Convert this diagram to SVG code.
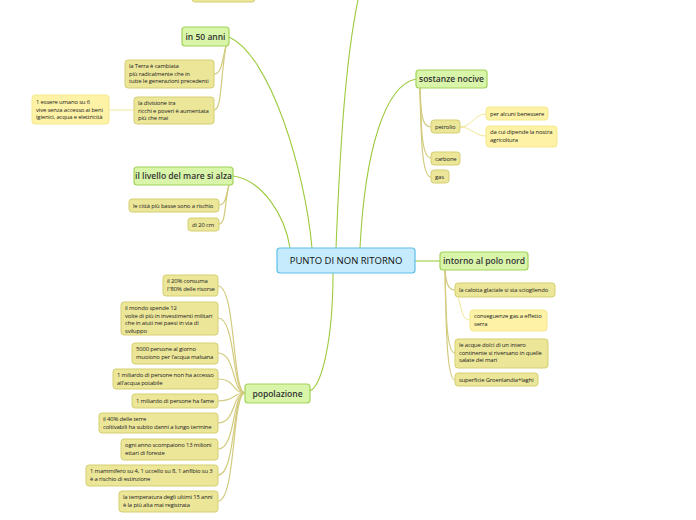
<svg xmlns="http://www.w3.org/2000/svg" width="696" height="520" viewBox="0 0 696 520">
<style>
.c{fill:#c6ebfc;stroke:#5dbeea;stroke-width:1.2}
.m{fill:#d8f5aa;stroke:#a3d35a;stroke-width:1.2}
.s{fill:#ece699;stroke:#d5cf72;stroke-width:1}
.l{fill:#fdf2a6;stroke:#f4e98e;stroke-width:1}
.ct{font-family:"Open Sans",sans-serif;font-size:9.5px;fill:#111;text-anchor:middle}
.mt{font-family:"Open Sans",sans-serif;font-size:8.5px;font-weight:600;fill:#333;text-anchor:middle}
.st{font-family:"Open Sans",sans-serif;font-size:5.9px;fill:#222;letter-spacing:-0.15px}
.g{fill:none;stroke:#9dca3e;stroke-width:1.1}
.o{fill:none;stroke:#d2cb7e;stroke-width:1.2}
.y{fill:none;stroke:#f3e896;stroke-width:1}
</style>
<rect width="696" height="520" fill="#ffffff"/>
<g id="connectors">
<path class="g" d="M312,248 C305,170 270,55 229,37"/>
<path class="g" d="M290,248 C285,215 262,180 233,176"/>
<path class="g" d="M336,248 C340,150 345,60 359,-5"/>
<path class="g" d="M360,248 C365,150 385,85 416,79"/>
<path class="g" d="M415,261 L440,261"/>
<path class="g" d="M333,273 C333,340 322,385 310,391"/>
<path class="o" d="M226,46 C222,60 222,74 214,74"/>
<path class="o" d="M226,46 C220,80 222,110 214,110"/>
<path class="y" d="M109,110 L134,110"/>
<path class="o" d="M229,185 C226,195 226,205 219,205"/>
<path class="o" d="M229,185 C224,205 226,224 219,224"/>
<path class="o" d="M420,88 C421,115 422,127 431,127"/>
<path class="o" d="M420,88 C421,130 422,158 431,158"/>
<path class="o" d="M420,88 C421,140 422,177 431,177"/>
<path class="y" d="M460,127 C472,127 474,114 486,114"/>
<path class="y" d="M460,127 C472,127 474,136 486,136"/>
<path class="o" d="M445,270 C446,280 447,290 455,290"/>
<path class="o" d="M445,270 C446,320 447,353 455,353"/>
<path class="o" d="M445,270 C446,330 447,380 455,380"/>
<path class="y" d="M458,297 C462,310 462,320 470,320"/>
<path class="o" d="M245,393 C232,393 236,286 218,286"/>
<path class="o" d="M245,393 C232,393 236,318 218,318"/>
<path class="o" d="M245,393 C232,393 236,353 218,353"/>
<path class="o" d="M245,393 C232,393 236,379 218,379"/>
<path class="o" d="M245,393 C232,393 236,401 218,401"/>
<path class="o" d="M245,393 C232,393 236,423 218,423"/>
<path class="o" d="M245,393 C232,393 236,449 218,449"/>
<path class="o" d="M245,393 C232,393 236,475 218,475"/>
<path class="o" d="M245,393 C232,393 236,501 218,501"/>
</g>
<g id="top-partial"><rect class="s" x="192" y="-20" width="63" height="22" rx="3"/></g>
<g id="center"><rect class="c" x="277" y="248" width="138" height="25" rx="3"/><text class="ct" x="346" y="264">PUNTO DI NON RITORNO</text></g>
<g id="in50"><rect class="m" x="182" y="27" width="47" height="19" rx="3"/><text class="mt" x="205.5" y="40">in 50 anni</text></g>
<g id="terra"><rect class="s" x="125" y="60" width="89" height="28" rx="3"/><text class="st" x="129" y="68"><tspan x="129">la Terra è cambiata</tspan><tspan x="129" dy="7.5">più radicalmente che in</tspan><tspan x="129" dy="7.5">tutte le generazioni precedenti</tspan></text></g>
<g id="divisione"><rect class="s" x="134" y="97" width="80" height="27" rx="3"/><text class="st" x="138" y="105"><tspan x="138">la divisione tra</tspan><tspan x="138" dy="7.5">ricchi e poveri è aumentata</tspan><tspan x="138" dy="7.5">più che mai</tspan></text></g>
<g id="essere"><rect class="l" x="32" y="95" width="77" height="29" rx="3"/><text class="st" x="36" y="104"><tspan x="36">1 essere umano su 6</tspan><tspan x="36" dy="7.5">vive senza accesso ai beni</tspan><tspan x="36" dy="7.5">igienici, acqua e elettricità</tspan></text></g>
<g id="livello"><rect class="m" x="134" y="167" width="99" height="18" rx="3"/><text class="mt" x="183.5" y="179">il livello del mare si alza</text></g>
<g id="citta"><rect class="s" x="129" y="199" width="90" height="13" rx="3"/><text class="st" x="133" y="208">le città più basse sono a rischio</text></g>
<g id="cm"><rect class="s" x="188" y="218" width="31" height="13" rx="3"/><text class="st" x="192" y="227">di 20 cm</text></g>
<g id="sostanze"><rect class="m" x="416" y="70" width="71" height="18" rx="3"/><text class="mt" x="451.5" y="82">sostanze nocive</text></g>
<g id="petrolio"><rect class="s" x="431" y="120" width="29" height="13" rx="3"/><text class="st" x="435" y="129">petrolio</text></g>
<g id="carbone"><rect class="s" x="431" y="152" width="29" height="13" rx="3"/><text class="st" x="435" y="161">carbone</text></g>
<g id="gas"><rect class="s" x="431" y="170" width="18" height="13" rx="3"/><text class="st" x="435" y="179">gas</text></g>
<g id="benessere"><rect class="l" x="486" y="107" width="62" height="13" rx="3"/><text class="st" x="490" y="116">per alcuni benessere</text></g>
<g id="agricoltura"><rect class="l" x="486" y="126" width="71" height="21" rx="3"/><text class="st" x="490" y="134"><tspan x="490">da cui dipende la nostra</tspan><tspan x="490" dy="7.5">agricoltura</tspan></text></g>
<g id="polo"><rect class="m" x="440" y="252" width="88" height="18" rx="3"/><text class="mt" x="484" y="264">intorno al polo nord</text></g>
<g id="calotta"><rect class="s" x="455" y="283" width="100" height="14" rx="3"/><text class="st" x="459" y="292">la calotta glaciale si sta sciogliendo</text></g>
<g id="serra"><rect class="l" x="470" y="310" width="77" height="21" rx="3"/><text class="st" x="474" y="318"><tspan x="474">conseguenze gas a effetto</tspan><tspan x="474" dy="7.5">serra</tspan></text></g>
<g id="acque"><rect class="s" x="455" y="339" width="93" height="29" rx="3"/><text class="st" x="459" y="347"><tspan x="459">le acque dolci di un intero</tspan><tspan x="459" dy="7.5">continente si riversano in quelle</tspan><tspan x="459" dy="7.5">salate dei mari</tspan></text></g>
<g id="groenlandia"><rect class="s" x="455" y="373" width="83" height="13" rx="3"/><text class="st" x="459" y="382">superficie Groenlandia+laghi</text></g>
<g id="popolazione"><rect class="m" x="245" y="384" width="65" height="19" rx="3"/><text class="mt" x="277.5" y="397">popolazione</text></g>
<g id="p20"><rect class="s" x="163" y="275" width="55" height="21" rx="3"/><text class="st" x="167" y="283"><tspan x="167">il 20% consuma</tspan><tspan x="167" dy="7.5">l''80% delle risorse</tspan></text></g>
<g id="mondo"><rect class="s" x="121" y="302" width="97" height="33" rx="3"/><text class="st" x="125" y="310"><tspan x="125">il mondo spende 12</tspan><tspan x="125" dy="7.5">volte di più in investimenti militari</tspan><tspan x="125" dy="7.5">che in aiuti nei paesi in via di</tspan><tspan x="125" dy="7.5">sviluppo</tspan></text></g>
<g id="p5000"><rect class="s" x="132" y="343" width="86" height="21" rx="3"/><text class="st" x="136" y="351"><tspan x="136">5000 persone al giorno</tspan><tspan x="136" dy="7.5">muoiono per l'acqua malsana</tspan></text></g>
<g id="miliardo1"><rect class="s" x="113" y="369" width="105" height="20" rx="3"/><text class="st" x="117" y="377"><tspan x="117">1 miliardo di persone non ha accesso</tspan><tspan x="117" dy="7.5">all'acqua potabile</tspan></text></g>
<g id="miliardo2"><rect class="s" x="132" y="394" width="86" height="14" rx="3"/><text class="st" x="136" y="403">1 miliardo di persone ha fame</text></g>
<g id="p40"><rect class="s" x="99" y="413" width="119" height="20" rx="3"/><text class="st" x="103" y="421"><tspan x="103">il 40% delle terre</tspan><tspan x="103" dy="7.5">coltivabili ha subito danni a lungo termine</tspan></text></g>
<g id="foreste"><rect class="s" x="121" y="439" width="97" height="21" rx="3"/><text class="st" x="125" y="447"><tspan x="125">ogni anno scompaiono 13 milioni</tspan><tspan x="125" dy="7.5">ettari di foreste</tspan></text></g>
<g id="mammifero"><rect class="s" x="86" y="465" width="132" height="21" rx="3"/><text class="st" x="90" y="473"><tspan x="90">1 mammifero su 4, 1 uccello su 8, 1 anfibio su 3</tspan><tspan x="90" dy="7.5">è a rischio di estinzione</tspan></text></g>
<g id="temperatura"><rect class="s" x="119" y="491" width="99" height="21" rx="3"/><text class="st" x="123" y="499"><tspan x="123">la temperatura degli ultimi 15 anni</tspan><tspan x="123" dy="7.5">è la più alta mai registrata</tspan></text></g>
</svg>
